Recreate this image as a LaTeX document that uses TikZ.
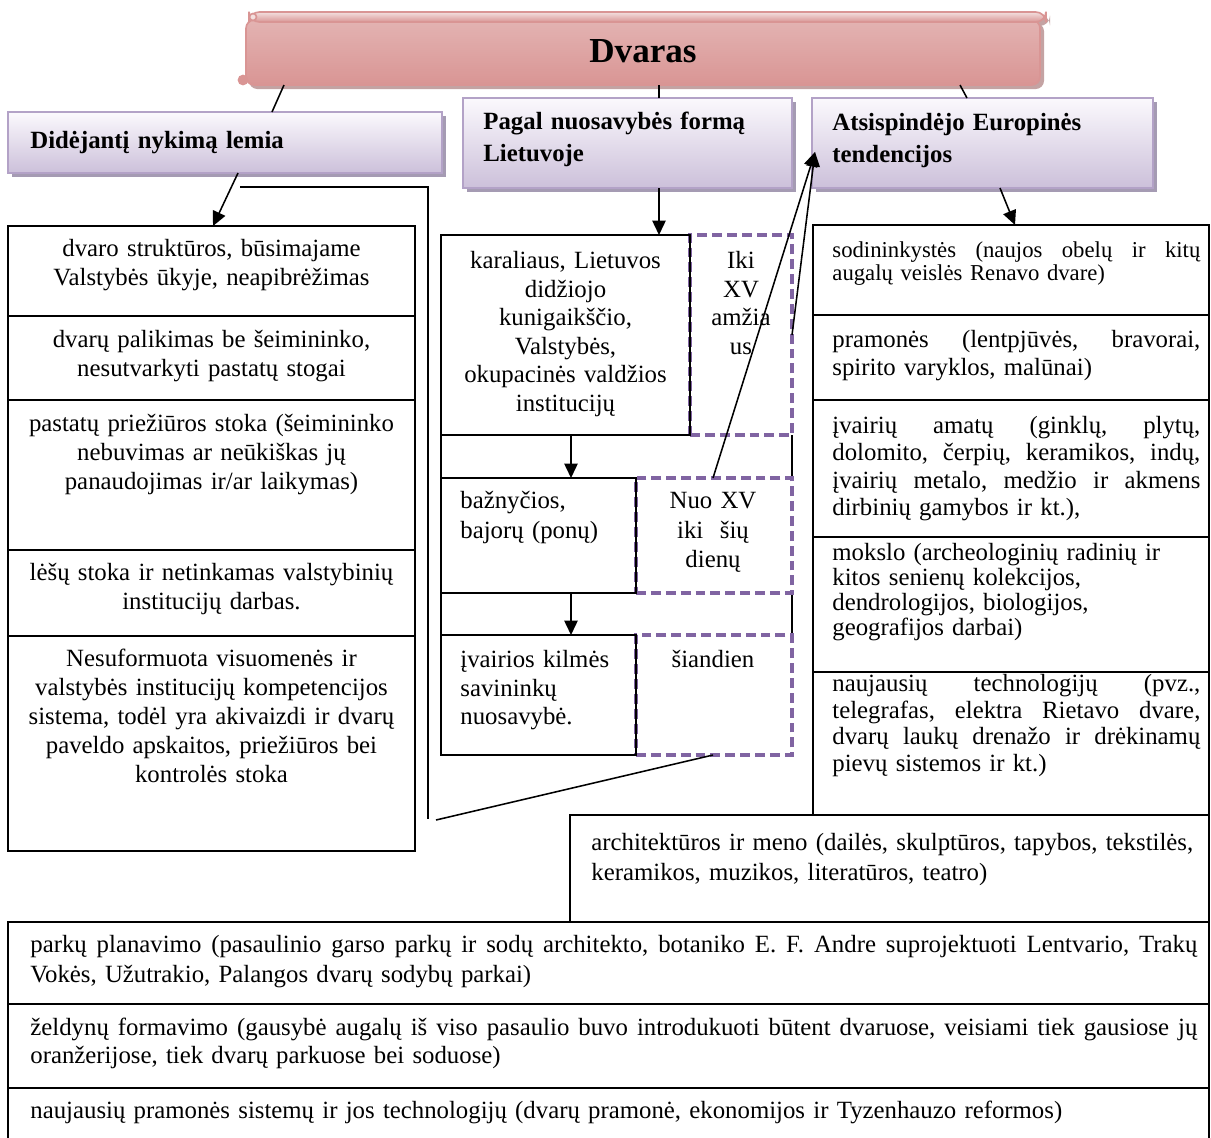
\documentclass[tikz,border=0pt]{standalone}
\usepackage{fontspec}
\setmainfont{Liberation Serif}
\usetikzlibrary{arrows.meta,fit}
\definecolor{pinkB}{HTML}{D99594}
\definecolor{pinkL}{HTML}{F3E0DF}
\definecolor{pinkM}{HTML}{E3B3B2}
\definecolor{pinkD}{HTML}{D99594}
\definecolor{pinkS}{HTML}{C4A3A3}
\definecolor{hB}{HTML}{B3A2C7}
\definecolor{hTop}{HTML}{FBF9FD}
\definecolor{hBot}{HTML}{CCC0DA}
\definecolor{hS}{HTML}{A59BB3}
\definecolor{dP}{HTML}{8064A2}
\newcommand\fsz[2]{\fontsize{#1}{#2}\selectfont}
\newcommand\jl[1]{\makebox[\hsize][s]{\spaceskip=0.25em plus 1fil\relax\xspaceskip=0.25em plus 1fil\relax #1}}
\frenchspacing
\begin{document}
\begin{tikzpicture}[x=0.484pt,y=-0.484pt,
  box/.style={draw, line width=0.75pt, inner sep=0pt},
  dbox/.style={draw=dP, line width=1.5pt, dash pattern=on 4.8pt off 2.4pt, fill=white, inner sep=0pt},
  hdr/.style={draw=hB, line width=1pt, top color=hTop, bottom color=hBot, inner sep=0pt},
  tc/.style={inner sep=0pt, anchor=base, align=center, font=\fsz{12}{14}},
  tl/.style={inner sep=0pt, anchor=base west, align=left, font=\fsz{12}{14}},
  ht/.style={inner sep=0pt, anchor=base west, align=left, font=\bfseries\fsz{12}{15.9}},
  ln/.style={line width=0.75pt},
  ar/.style={line width=0.75pt, -{Triangle[length=7pt,width=6.5pt]}}
]
\useasboundingbox (0,0) rectangle (1211,1138);

% ---------- title banner (scroll) ----------
\fill[pinkS, rounded corners=4] (249,23) rectangle (1044,89);
\fill[pinkS, rounded corners=5] (253,15) rectangle (1050,26);
\shade[top color=pinkM, middle color=pinkL, bottom color=pinkD, draw=pinkB, line width=0.8pt, rounded corners=4]
  (246,20) rectangle (1040,85);
\shade[top color=pinkL, bottom color=pinkD, draw=pinkB, line width=0.8pt, rounded corners=5]
  (249,12) rectangle (1046,22);
\draw[pinkB, line width=0.8pt, fill=pinkL] (253,17) circle (3.5);
\draw[pinkB, line width=0.8pt, fill=pinkD] (243,80) circle (4.5);
\draw[pinkB, line width=0.6pt] (244,79) circle (1.6);
\node[inner sep=0pt, fit={(240,12) (1046,85)}] (banner) {};
\node[inner sep=0pt, anchor=base, font=\bfseries\fsz{17}{20}] (title) at (643,62) {Dvaras};

% ---------- header boxes ----------
\fill[hS] (12,116) rectangle (446,177);
\node[hdr, fit={(8,112) (442,173)}] (hL) {};
\fill[hS] (467,102) rectangle (796,192);
\node[hdr, fit={(463,98) (792,188)}] (hM) {};
\fill[hS] (816,102) rectangle (1157,192);
\node[hdr, fit={(812,98) (1153,188)}] (hR) {};
\node[ht, text width=200pt] (hLt) at (30,148.3) {Didėjantį nykimą lemia};
\node[ht, text width=150pt] (hMt) at (483,129) {Pagal nuosavybės formą\\Lietuvoje};
\node[ht, text width=150pt] (hRt) at (832,130) {Atsispindėjo Europinės\\tendencijos};

% ---------- left column ----------
\node[box, fit={(8,226) (415,316)}] (L1) {};
\node[box, fit={(8,316) (415,400)}] (L2) {};
\node[box, fit={(8,400) (415,550)}] (L3) {};
\node[box, fit={(8,550) (415,636)}] (L4) {};
\node[box, fit={(8,636) (415,851)}] (L5) {};
\node[tc, text width=195pt] (L1t) at (211.5,256.5) {dvaro struktūros, būsimajame\\Valstybės ūkyje, neapibrėžimas};
\node[tc, text width=195pt] (L2t) at (211.5,347.5) {dvarų palikimas be šeimininko,\\nesutvarkyti pastatų stogai};
\node[tc, text width=195pt] (L3t) at (211.5,431.5) {pastatų priežiūros stoka (šeimininko\\nebuvimas ar neūkiškas jų\\panaudojimas ir/ar laikymas)};
\node[tc, text width=195pt] (L4t) at (211.5,580.5) {lėšų stoka ir netinkamas valstybinių\\institucijų darbas.};
\node[tc, text width=195pt] (L5t) at (211.5,666.5) {Nesuformuota visuomenės ir\\valstybės institucijų kompetencijos\\sistema, todėl yra akivaizdi ir dvarų\\paveldo apskaitos, priežiūros bei\\kontrolės stoka};

% ---------- middle column ----------
\draw[ln] (441,235) -- (441,755);
\draw[ln] (792,435) -- (792,478);
\draw[ln] (792,593) -- (792,635);
\node[dbox, fit={(690,235) (792,435)}] (mAd) {};
\node[dbox, fit={(636,478) (792,593)}] (mBd) {};
\node[dbox, fit={(636,635) (792,755)}] (mCd) {};
\node[box, fit={(441,235) (690,435)}] (mA) {};
\node[box, fit={(441,478) (636,593)}] (mB) {};
\node[box, fit={(441,635) (636,755)}] (mC) {};
\node[tc, text width=118pt, font=\fsz{12}{13.8}] (mAt) at (565.5,268.5) {karaliaus, Lietuvos\\didžiojo\\kunigaikščio,\\Valstybės,\\okupacinės valdžios\\institucijų};
\node[tc, text width=48pt, font=\fsz{12}{13.8}] (mAdt) at (741,268.5) {Iki\\XV\\amžia\\us};
\node[tl, text width=85pt, font=\fsz{12}{14.5}] (mBt) at (460,508.5) {bažnyčios,\\bajorų (ponų)};
\node[tc, text width=72pt, font=\fsz{12}{14.3}] (mBdt) at (713,508.5) {Nuo XV\\iki\ \ šių\\dienų};
\node[tl, text width=85pt, font=\fsz{12}{13.8}] (mCt) at (460,667.5) {įvairios kilmės\\savininkų\\nuosavybė.};
\node[tc, text width=72pt] (mCdt) at (713,667.5) {šiandien};

% ---------- right column ----------
\node[box, fit={(813,225) (1209,315)}] (R1) {};
\node[box, fit={(813,315) (1209,400)}] (R2) {};
\node[box, fit={(813,400) (1209,537)}] (R3) {};
\node[box, fit={(813,537) (1209,672)}] (R4) {};
\node[box, fit={(813,672) (1209,815)}] (R5) {};
\node[tl, text width=178.1pt, font=\fsz{11}{11.3}] (R1t) at (832,257) {\jl{sodininkystės (naujos obelų ir kitų}\\augalų veislės Renavo dvare)};
\node[tl, text width=178.1pt, font=\fsz{12}{13.6}] (R2t) at (832,347.5) {\jl{pramonės (lentpjūvės, bravorai,}\\spirito varyklos, malūnai)};
\node[tl, text width=178.1pt, font=\fsz{12}{13.3}] (R3t) at (832,433.5) {\jl{įvairių amatų (ginklų, plytų,}\\\jl{dolomito, čerpių, keramikos, indų,}\\\jl{įvairių metalo, medžio ir akmens}\\dirbinių gamybos ir kt.),};
\node[tl, text width=178.1pt, font=\fsz{12}{12.1}] (R4t) at (832,560.5) {mokslo (archeologinių radinių ir\\kitos senienų kolekcijos,\\dendrologijos, biologijos,\\geografijos darbai)};
\node[tl, text width=178.1pt, font=\fsz{12}{12.9}] (R5t) at (832,691.5) {\jl{naujausių technologijų (pvz.,}\\\jl{telegrafas, elektra Rietavo dvare,}\\\jl{dvarų laukų drenažo ir drėkinamų}\\pievų sistemos ir kt.)};

% ---------- architecture box ----------
\node[box, fit={(570,815) (1209,922)}] (Ar) {};
\node[tl, text width=300pt, font=\fsz{12}{14.5}] (Art) at (591,850.5) {architektūros ir meno (dailės, skulptūros, tapybos, tekstilės,\\keramikos, muzikos, literatūros, teatro)};

% ---------- bottom boxes ----------
\node[box, fit={(8,922) (1209,1004)}] (B1) {};
\node[box, fit={(8,1004) (1209,1088)}] (B2) {};
\node[box, fit={(8,1088) (1209,1150)}] (B3) {};
\node[tl, text width=564.8pt, font=\fsz{12}{14.5}] (B1t) at (30,952.5) {\jl{parkų planavimo (pasaulinio garso parkų ir sodų architekto, botaniko E. F. Andre suprojektuoti Lentvario, Trakų}\\Vokės, Užutrakio, Palangos dvarų sodybų parkai)};
\node[tl, text width=564.8pt, font=\fsz{12}{13.6}] (B2t) at (30,1035.5) {\jl{želdynų formavimo (gausybė augalų iš viso pasaulio buvo introdukuoti būtent dvaruose, veisiami tiek gausiose jų}\\oranžerijose, tiek dvarų parkuose bei soduose)};
\node[tl, text width=564.8pt] (B3t) at (30,1118.5) {naujausių pramonės sistemų ir jos technologijų (dvarų pramonė, ekonomijos ir Tyzenhauzo reformos)};

% ---------- connector end points ----------
\coordinate (c1a) at (284,85);   \coordinate (c1b) at (272,112);
\coordinate (c2a) at (659,85);   \coordinate (c2b) at (659,98);
\coordinate (c3a) at (960,85);   \coordinate (c3b) at (967,98);
\coordinate (a1a) at (238,173);  \coordinate (a1b) at (213,226);
\coordinate (p1a) at (240,187);  \coordinate (p1b) at (428,187); \coordinate (p1c) at (428,819);
\coordinate (p2a) at (436,820);  \coordinate (p2b) at (713,755);
\coordinate (a2a) at (659,188);  \coordinate (a2b) at (659,235);
\coordinate (a3a) at (1000,188); \coordinate (a3b) at (1015,225);
\coordinate (a4a) at (713,478);  \coordinate (tip) at (815,152);
\coordinate (a5a) at (792,335);
\coordinate (a6a) at (571,435);  \coordinate (a6b) at (571,478);
\coordinate (a7a) at (571,593);  \coordinate (a7b) at (571,635);

% ---------- connectors ----------
\draw[ln] (c1a) -- (c1b);
\draw[ln] (c2a) -- (c2b);
\draw[ln] (c3a) -- (c3b);
\draw[ar] (a1a) -- (a1b);
\draw[ln] (p1a) -- (p1b) -- (p1c);
\draw[ln] (p2a) -- (p2b);
\draw[ar] (a2a) -- (a2b);
\draw[ar] (a3a) -- (a3b);
\draw[ar] (a4a) -- (tip);
\draw[ar] (a5a) -- (tip);
\draw[ar] (a6a) -- (a6b);
\draw[ar] (a7a) -- (a7b);
\end{tikzpicture}
\end{document}
